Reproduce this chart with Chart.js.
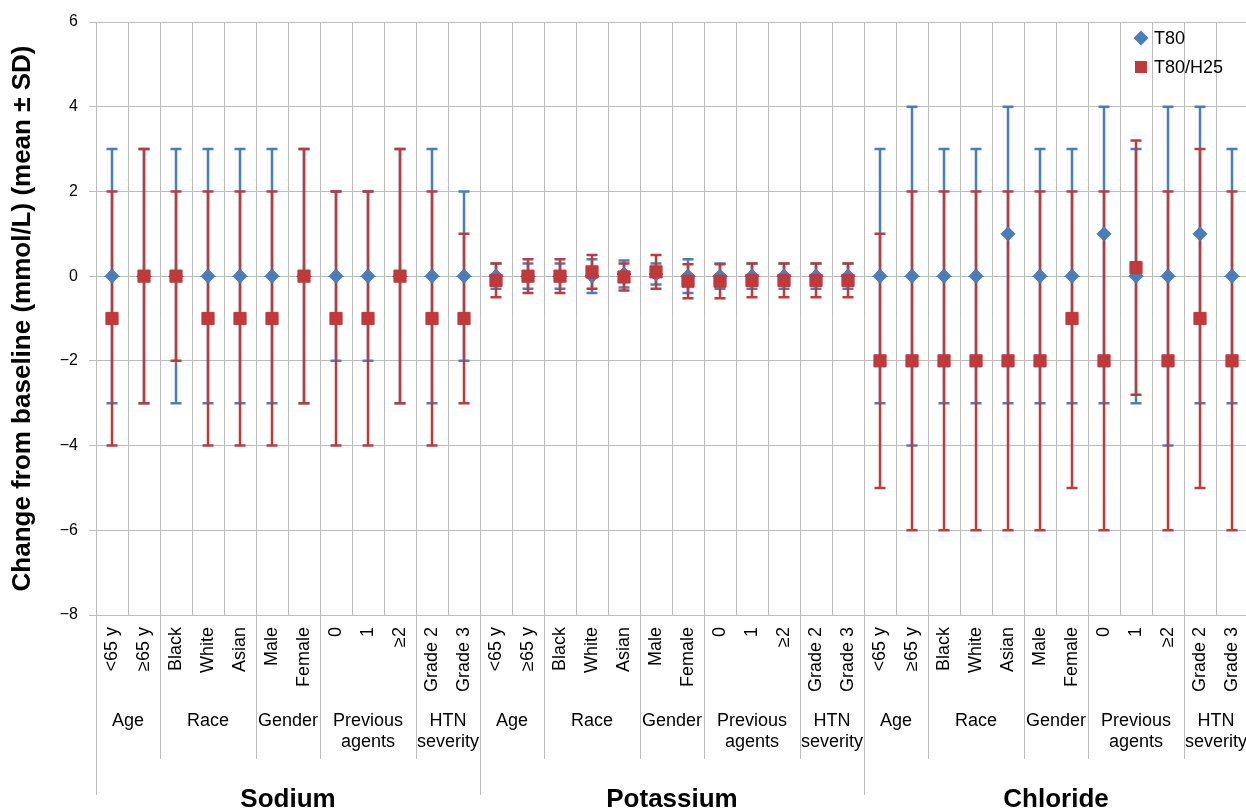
<!DOCTYPE html>
<html>
<head>
<meta charset="utf-8">
<title>Change from baseline in electrolytes</title>
<script src="https://cdn.jsdelivr.net/npm/chart.js@4.4.1/dist/chart.umd.min.js"></script>
<style>
    html, body { margin: 0; padding: 0; background: #fff; overflow: hidden; }
    canvas { display: block; }
</style>
</head>
<body>
<canvas id="chart" width="1248" height="810"></canvas>
<script>
// groups along the x axis
const electrolytes = ['Sodium', 'Potassium', 'Chloride'];
const subgroups = ['Age', 'Race', 'Gender', 'Previous\nagents', 'HTN\nseverity'];
const subgroupSizes = [2, 3, 2, 3, 2];
const levels = ['<65 y', '≥65 y', 'Black', 'White', 'Asian', 'Male', 'Female', '0', '1', '≥2', 'Grade 2', 'Grade 3'];
const categories = electrolytes.flatMap(() => levels);

const yTicks = [6, 4, 2, 0, -2, -4, -6, -8];

// T80: mean and SD above / below (sodium, potassium, chloride)
const t80Mean = [
    0, 0, 0, 0, 0, 0, 0, 0, 0, 0, 0, 0,
    0, 0, 0, 0, 0.05, 0.05, 0, 0, 0, 0, 0, 0,
    0, 0, 0, 0, 1, 0, 0, 1, 0, 0, 1, 0,
];
const t80SdUp = [
    3, 3, 3, 3, 3, 3, 3, 2, 2, 3, 3, 2,
    0.3, 0.3, 0.3, 0.4, 0.32, 0.25, 0.4, 0.3, 0.3, 0.3, 0.3, 0.3,
    3, 4, 3, 3, 3, 3, 3, 3, 3, 4, 3, 3,
];
const t80SdDown = [
    3, 3, 3, 3, 3, 3, 3, 2, 2, 3, 3, 2,
    0.3, 0.3, 0.3, 0.4, 0.32, 0.25, 0.4, 0.3, 0.3, 0.3, 0.3, 0.3,
    3, 4, 3, 3, 4, 3, 3, 4, 3, 4, 4, 3,
];

// T80/H25
const h25Mean = [
    -1, 0, 0, -1, -1, -1, 0, -1, -1, 0, -1, -1,
    -0.1, 0, 0, 0.1, -0.02, 0.1, -0.12, -0.12, -0.1, -0.1, -0.1, -0.1,
    -2, -2, -2, -2, -2, -2, -1, -2, 0.2, -2, -1, -2,
];
const h25SdUp = [
    3, 3, 2, 3, 3, 3, 3, 3, 3, 3, 3, 2,
    0.4, 0.4, 0.4, 0.4, 0.32, 0.4, 0.4, 0.4, 0.4, 0.4, 0.4, 0.4,
    3, 4, 4, 4, 4, 4, 3, 4, 3, 4, 4, 4,
];
const h25SdDown = [
    3, 3, 2, 3, 3, 3, 3, 3, 3, 3, 3, 2,
    0.4, 0.4, 0.4, 0.4, 0.32, 0.4, 0.4, 0.4, 0.4, 0.4, 0.4, 0.4,
    3, 4, 4, 4, 4, 4, 4, 4, 3, 4, 4, 4,
];

const BLUE = '#4a7ebb';
const RED = '#c0393b';
const GRID = '#bdbdbd';
const FONT = '"Liberation Sans", Arial, sans-serif';

Chart.defaults.font.family = FONT;
Chart.defaults.color = '#000';

function crisp(p) {
    return Math.round(p - 0.5) + 0.5;
}

// SD whiskers, drawn under the markers
const errorBars = {
    id: 'errorBars',
    beforeDatasetsDraw(chart) {
        const { ctx } = chart;
        const yScale = chart.scales.y;
        ctx.save();
        chart.data.datasets.forEach((ds, i) => {
            const meta = chart.getDatasetMeta(i);
            ctx.strokeStyle = ds.borderColor;
            ctx.lineWidth = 2.5;
            meta.data.forEach((pt, j) => {
                const mean = ds.data[j];
                const top = yScale.getPixelForValue(mean + ds.sdUp[j]);
                const bot = yScale.getPixelForValue(mean - ds.sdDown[j]);
                ctx.beginPath();
                ctx.moveTo(pt.x, top);
                ctx.lineTo(pt.x, bot);
                ctx.moveTo(pt.x - 5.5, top);
                ctx.lineTo(pt.x + 5.5, top);
                ctx.moveTo(pt.x - 5.5, bot);
                ctx.lineTo(pt.x + 5.5, bot);
                ctx.stroke();
            });
        });
        ctx.restore();
    },
};

// group labels under the axis, dividers and the legend
const annotations = {
    id: 'annotations',
    afterDraw(chart) {
        const { ctx, chartArea: area } = chart;
        const step = area.width / categories.length;
        const edge = (i) => area.left + i * step;
        const vline = (x, y1, y2) => {
            ctx.beginPath();
            ctx.moveTo(crisp(x), y1);
            ctx.lineTo(crisp(x), y2);
            ctx.stroke();
        };

        ctx.save();
        ctx.strokeStyle = GRID;
        ctx.lineWidth = 1;
        ctx.fillStyle = '#000';
        ctx.textAlign = 'center';
        ctx.textBaseline = 'alphabetic';

        let i = 0;
        electrolytes.forEach((name) => {
            const start = i;
            vline(edge(start), area.bottom, area.bottom + 180);
            ctx.font = '18px ' + FONT;
            subgroups.forEach((sg, s) => {
                const n = subgroupSizes[s];
                const cx = (edge(i) + edge(i + n)) / 2;
                sg.split('\n').forEach((t, k) => {
                    ctx.fillText(t, cx, area.bottom + 111 + k * 21);
                });
                i += n;
                if (s < subgroups.length - 1) {
                    vline(edge(i), area.bottom, area.bottom + 144);
                }
            });
            ctx.font = 'bold 26px ' + FONT;
            ctx.fillText(name, (edge(start) + edge(i)) / 2, area.bottom + 192);
        });
        vline(edge(i), area.bottom, area.bottom + 180);

        // legend
        const lx = area.right - 107;
        const ly = area.top + 16;
        ctx.fillStyle = BLUE;
        ctx.beginPath();
        ctx.moveTo(lx - 7.5, ly);
        ctx.lineTo(lx, ly - 7.5);
        ctx.lineTo(lx + 7.5, ly);
        ctx.lineTo(lx, ly + 7.5);
        ctx.closePath();
        ctx.fill();
        ctx.fillStyle = RED;
        ctx.fillRect(lx - 6, ly + 29 - 6, 12, 12);

        ctx.fillStyle = '#000';
        ctx.font = '18px ' + FONT;
        ctx.textAlign = 'left';
        ctx.textBaseline = 'middle';
        ctx.fillText('T80', lx + 13, ly + 1);
        ctx.fillText('T80/H25', lx + 13, ly + 30);
        ctx.restore();
    },
};

new Chart(document.getElementById('chart'), {
    type: 'line',
    data: {
        labels: categories,
        datasets: [
            {
                label: 'T80',
                data: t80Mean,
                sdUp: t80SdUp,
                sdDown: t80SdDown,
                showLine: false,
                borderColor: BLUE,
                backgroundColor: BLUE,
                pointStyle: 'rectRot',
                pointRadius: 7,
                pointBorderWidth: 1,
                order: 2,
            },
            {
                label: 'T80/H25',
                data: h25Mean,
                sdUp: h25SdUp,
                sdDown: h25SdDown,
                showLine: false,
                borderColor: RED,
                backgroundColor: RED,
                pointStyle: 'rect',
                pointRadius: 8.6,
                pointBorderWidth: 1,
                order: 1,
            },
        ],
    },
    options: {
        responsive: false,
        animation: false,
        layout: {
            autoPadding: false,
            padding: { top: 22, right: 0, bottom: 0, left: 0 },
        },
        plugins: {
            legend: { display: false },
            tooltip: { enabled: false },
        },
        scales: {
            x: {
                type: 'category',
                offset: true,
                grid: { color: GRID, offset: true, drawTicks: false },
                border: { color: GRID },
                ticks: {
                    autoSkip: false,
                    minRotation: 90,
                    maxRotation: 90,
                    padding: 12,
                    font: { size: 18 },
                    color: '#000',
                },
                afterFit(scale) {
                    scale.height = 195;
                    scale.paddingLeft = 0;
                    scale.paddingRight = 0;
                },
            },
            y: {
                min: Math.min(...yTicks),
                max: Math.max(...yTicks),
                afterBuildTicks(scale) {
                    scale.ticks = yTicks.map((v) => ({ value: v }));
                },
                grid: { color: GRID, tickLength: 7 },
                border: { color: GRID },
                ticks: {
                    padding: 11,
                    font: { size: 16 },
                    color: '#000',
                    callback: (v) => (v < 0 ? '\u2212' + Math.abs(v) : String(v)),
                },
                title: {
                    display: true,
                    text: 'Change from baseline (mmol/L) (mean ± SD)',
                    font: { size: 26, weight: 'bold' },
                    color: '#000',
                    padding: { top: 7, bottom: 0 },
                },
                afterFit(scale) {
                    scale.width = 96;
                },
            },
        },
    },
    plugins: [errorBars, annotations],
});
</script>
</body>
</html>
